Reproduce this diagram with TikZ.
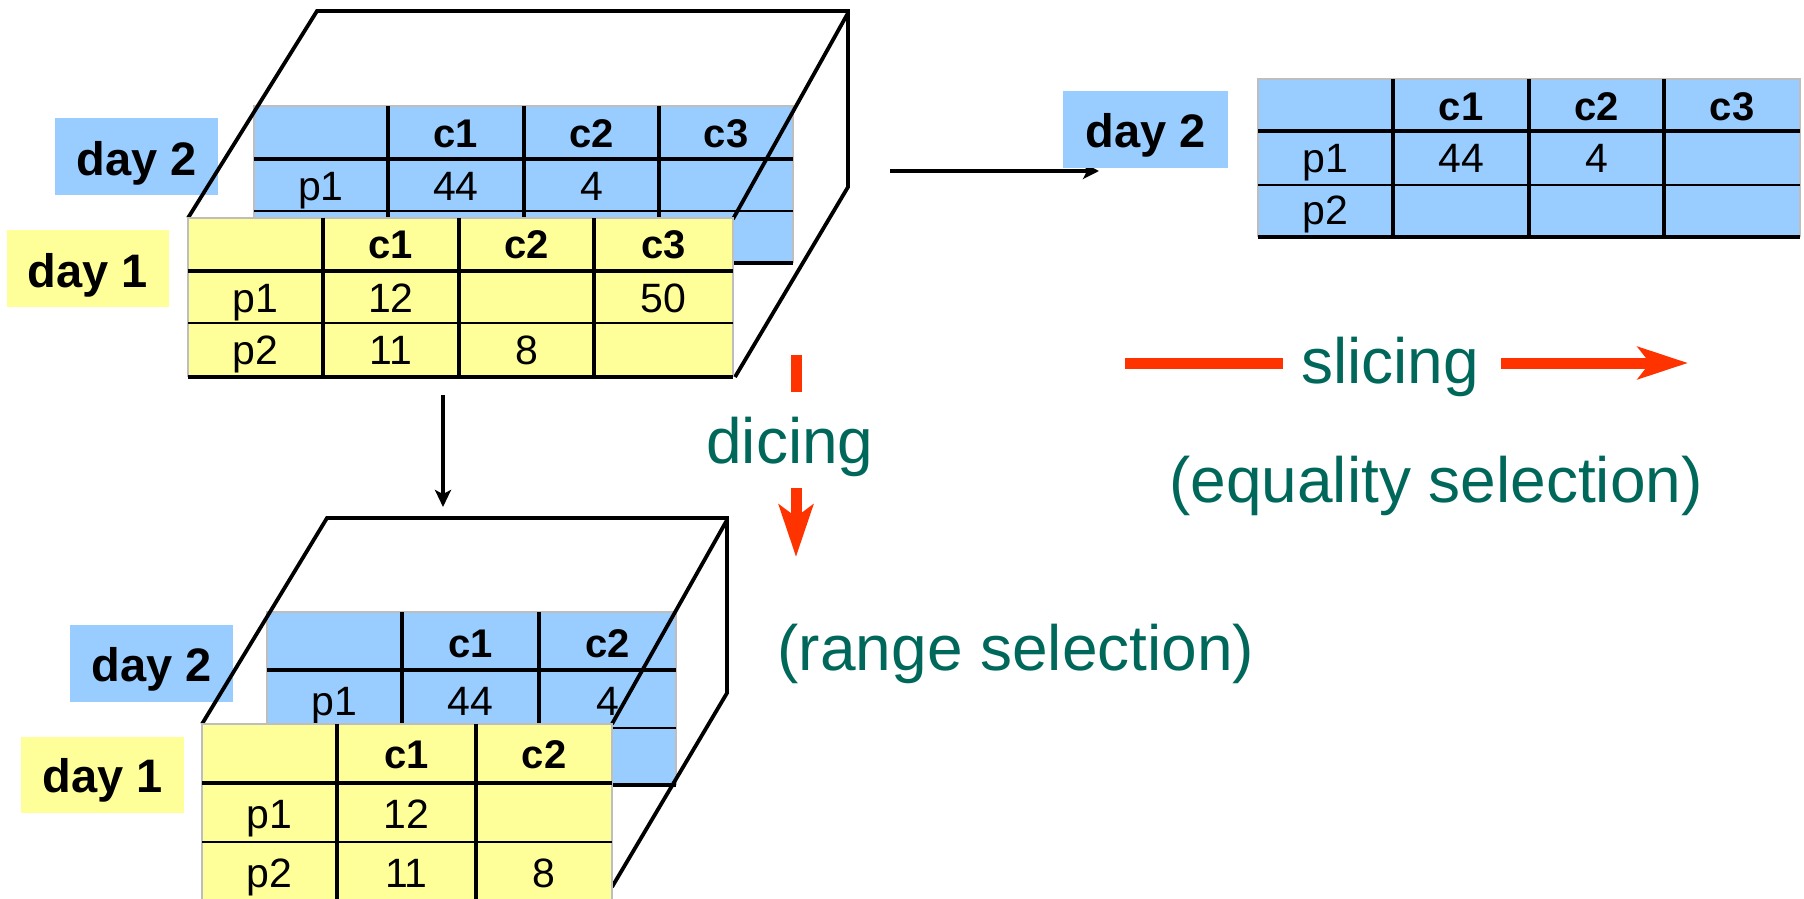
\documentclass[tikz,border=0pt]{standalone}
\usepackage{fontspec}
\setmainfont{Liberation Sans}
\usetikzlibrary{arrows.meta}
\definecolor{cblue}{RGB}{153,204,255}
\definecolor{cyel}{RGB}{255,255,153}
\definecolor{cred}{RGB}{255,51,0}
\definecolor{cteal}{RGB}{0,104,90}
\definecolor{cgray}{RGB}{190,190,190}
\tikzset{
 cube/.style={line width=3.8pt, black, line join=miter},
 tabv/.style={line width=3.2pt, black},
 tabhh/.style={line width=3.4pt, black},
 tabh/.style={line width=2.6pt, black},
 tabbot/.style={line width=3.8pt, black},
 tabborder/.style={line width=2.4pt, cgray},
 cellh/.style={anchor=base, inner sep=0pt, font=\fontsize{40}{44}\selectfont\bfseries},
 cellv/.style={anchor=base, inner sep=0pt, font=\fontsize{41}{45}\selectfont},
 dayt/.style={anchor=base, inner sep=0pt, font=\fontsize{47}{52}\selectfont\bfseries},
 bigt/.style={anchor=base, inner sep=0pt, text=cteal, font=\fontsize{64}{70}\selectfont},
 redbar/.style={line width=11pt, cred},
 blk/.style={line width=4pt, black},
}
% #1 fill, #2 left, #3 right, #4 top, #5 bottom, #6 inner xs, #7 inner ys
\newcommand\gridtab[7]{%
 \fill[#1] (#2,#4) rectangle (#3,#5);
 \draw[tabborder] (#2,#5) -- (#2,#4) -- (#3,#4) -- (#3,#5);
 \foreach \xx in {#6} {\draw[tabv] (\xx,#4) -- (\xx,#5);}
 \foreach \yy [count=\ii] in {#7} {\ifnum\ii=1 \draw[tabhh] (#2,\yy) -- (#3,\yy);\else \draw[tabh] (#2,\yy) -- (#3,\yy);\fi}
 \draw[tabbot] (#2,#5) -- (#3,#5);
}
\begin{document}
\begin{tikzpicture}[x=1pt,y=-1pt]
\useasboundingbox (0,0) rectangle (1804,899);
\fill[white] (0,0) rectangle (1804,899);

% ================= TOP CUBE =================
\fill[cblue] (55,118) rectangle (218,195);
\node[dayt] (tDay2) at (137,175) {day 2};
% back slice (day 2)
\gridtab{cblue}{254}{793}{106}{263}{388,524,659}{159,211}
\node[cellh] (tBc1) at (456,147) {c1};
\node[cellh] (tBc2) at (591.5,147) {c2};
\node[cellh] (tBc3) at (726,147) {c3};
\node[cellv] (tBp1) at (321,200) {p1};
\node[cellv] (tB44) at (456,200) {44};
\node[cellv] (tB4) at (591.5,200) {4};
% cube edges
\draw[cube] (188,218) -- (317,11) -- (848,11) -- (848,187) -- (735,377);
\draw[cube] (848,13) -- (733,219);
% front slice (day 1)
\gridtab{cyel}{188}{733}{218}{377}{323,459,594}{271,323}
\node[cellh] (tYc1) at (391,258) {c1};
\node[cellh] (tYc2) at (526.5,258) {c2};
\node[cellh] (tYc3) at (663.5,258) {c3};
\node[cellv] (tYp1) at (255.5,312) {p1};
\node[cellv] (tY12) at (391,312) {12};
\node[cellv] (tY50) at (663.5,312) {50};
\node[cellv] (tYp2) at (255.5,364) {p2};
\node[cellv] (tY11) at (391,364) {11};
\node[cellv] (tY8) at (526.5,364) {8};
\fill[cyel] (7,230) rectangle (169,307);
\node[dayt] (tDay1) at (88,287) {day 1};

% ================= RIGHT TABLE =================
\coordinate (rA) at (890,171);
\coordinate (rB) at (1099,171);
\draw[blk,-{Stealth[length=16pt,width=16pt,inset=4pt]}] (rA) -- (rB);
\fill[cblue] (1063,91) rectangle (1228,168);
\node[dayt] (rDay2) at (1145.5,147) {day 2};
\gridtab{cblue}{1258}{1800}{79}{237}{1393,1529,1664}{131,185}
\node[cellh] (rc1) at (1461,120) {c1};
\node[cellh] (rc2) at (1596.5,120) {c2};
\node[cellh] (rc3) at (1732,120) {c3};
\node[cellv] (rp1) at (1325.5,172) {p1};
\node[cellv] (r44) at (1461,172) {44};
\node[cellv] (r4) at (1596.5,172) {4};
\node[cellv] (rp2) at (1325.5,224) {p2};

% ================= DOWN ARROW =================
\coordinate (dA) at (443,395);
\coordinate (dB) at (443,507);
\draw[blk,-{Stealth[length=17pt,width=16pt,inset=4pt]}] (dA) -- (dB);

% ================= BOTTOM CUBE =================
\fill[cblue] (70,625) rectangle (233,702);
\node[dayt] (bDay2) at (151.5,681) {day 2};
\gridtab{cblue}{267}{676}{612}{785}{402,539}{670,728}
\node[cellh] (bBc1) at (470.5,657) {c1};
\node[cellh] (bBc2) at (607.5,657) {c2};
\node[cellv] (bBp1) at (334.5,715) {p1};
\node[cellv] (bB44) at (470.5,715) {44};
\node[cellv] (bB4) at (607.5,715) {4};
\draw[cube] (202,724) -- (327,518) -- (727,518) -- (727,693) -- (612,887);
\draw[cube] (727,520) -- (612,724);
\gridtab{cyel}{202}{612}{724}{910}{337,476}{783,842}
\node[cellh] (bYc1) at (406.5,768) {c1};
\node[cellh] (bYc2) at (544,768) {c2};
\node[cellv] (bYp1) at (269.5,828) {p1};
\node[cellv] (bY12) at (406.5,828) {12};
\node[cellv] (bYp2) at (269.5,887) {p2};
\node[cellv] (bY11) at (406.5,887) {11};
\node[cellv] (bY8) at (544,887) {8};
\fill[cyel] (21,737) rectangle (184,813);
\node[dayt] (bDay1) at (102.5,792) {day 1};

% ================= LABELS & RED ARROWS =================
\node[bigt] (dicing) at (790,463) {dicing};
\coordinate (dc1) at (796,355);
\coordinate (dc2) at (796,392);
\draw[redbar] (dc1) -- (dc2);
\coordinate (dc3) at (796,488);
\coordinate (dc4) at (796,557);
\draw[redbar,-{Stealth[length=52pt,width=34pt,inset=12pt]}] (dc3) -- (dc4);
\node[bigt] (range) at (1016,670) {(range selection)};

\node[bigt] (slicing) at (1390,383) {slicing};
\coordinate (sl1) at (1125,363);
\coordinate (sl2) at (1283,363);
\draw[redbar] (sl1) -- (sl2);
\coordinate (sl3) at (1501,363);
\coordinate (sl4) at (1688,363);
\draw[redbar,-{Stealth[length=50pt,width=32pt,inset=12pt]}] (sl3) -- (sl4);
\node[bigt] (equality) at (1436,502) {(equality selection)};
\end{tikzpicture}
\end{document}
